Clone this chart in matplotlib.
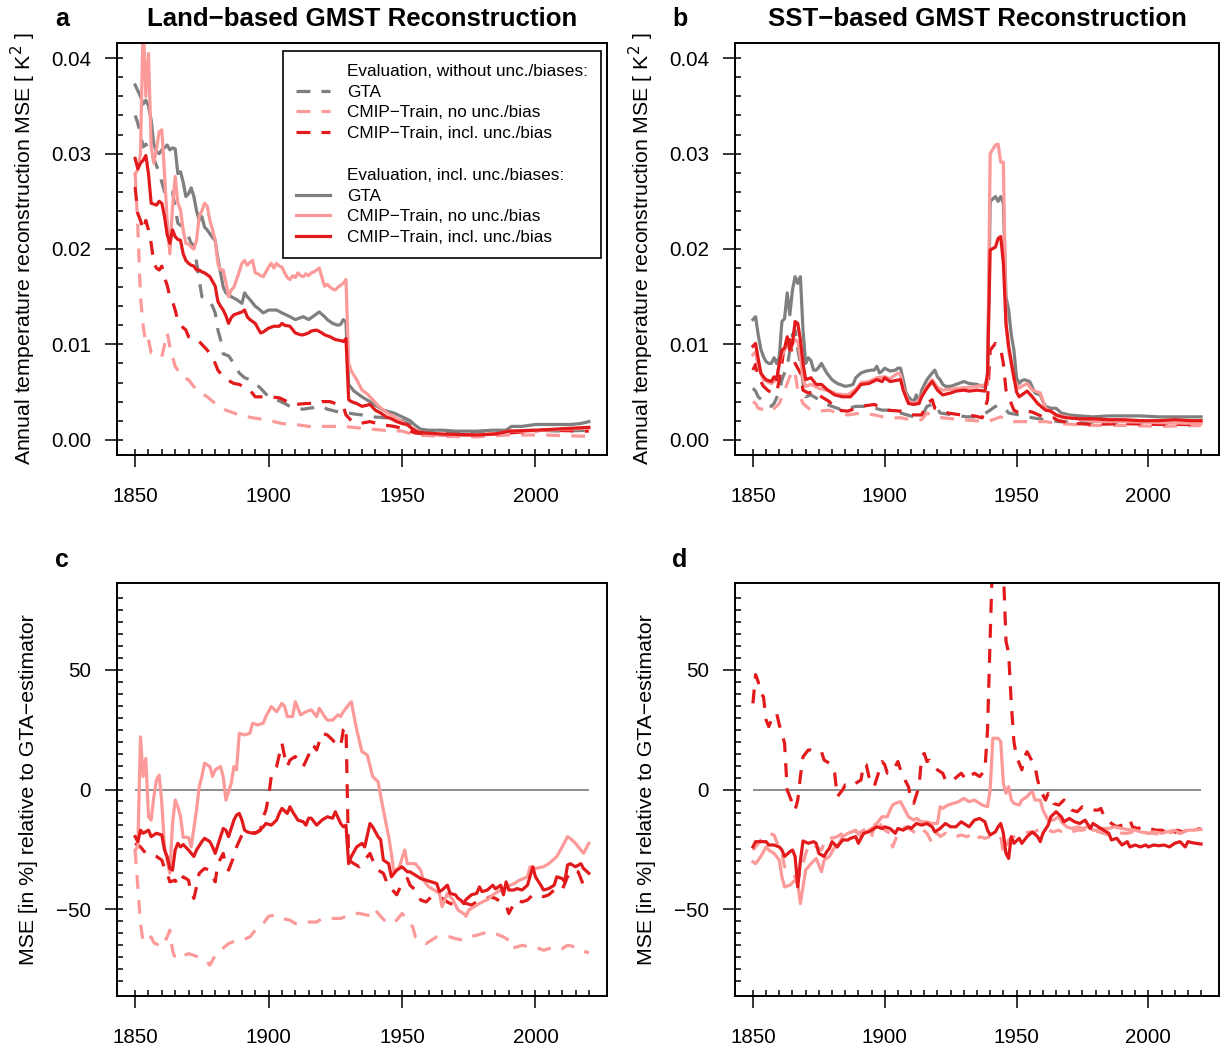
import numpy as np
import matplotlib
matplotlib.use("Agg")
import matplotlib.pyplot as plt
from matplotlib.lines import Line2D

plt.rcParams['font.family'] = ['Liberation Sans', 'DejaVu Sans']
plt.rcParams['lines.scale_dashes'] = False

GREY = '#7F7F7F'
PINK = '#FB9A99'
RED = '#E31A1C'
DASH = (0, (10, 8))

# --- panel a: land-based MSE, values in 1e-3 K^2 (year, value) ---
a_gta_noerr = [(1850, 34.0), (1851, 33.2), (1852, 32.0), (1853, 30.7), (1854, 31.0), (1855, 30.5), (1857, 29.5),
               (1859, 28.0), (1861, 26.0), (1862, 25.5), (1864, 26.0), (1866, 22.7), (1868, 22.3), (1870, 21.3),
               (1871, 20.6), (1872, 20.4), (1874, 16.8), (1875, 15.0), (1877, 14.8), (1879, 14.0), (1880, 13.3),
               (1881, 11.5), (1882, 10.5), (1883, 9.0), (1885, 8.8), (1887, 8.0), (1889, 7.0), (1891, 6.5),
               (1893, 6.3), (1895, 5.9), (1897, 5.4), (1900, 4.5), (1903, 4.2), (1906, 3.8), (1908, 3.5),
               (1910, 3.3), (1913, 3.2), (1915, 3.3), (1918, 3.4), (1920, 3.5), (1922, 3.2), (1925, 3.0),
               (1928, 2.8), (1930, 2.8), (1932, 2.7), (1935, 2.6), (1939, 2.4), (1944, 2.3), (1948, 2.1),
               (1950, 2.0), (1953, 1.6), (1955, 1.2), (1958, 0.9), (1965, 0.8), (1975, 0.7), (1985, 0.8),
               (1990, 0.9), (2000, 1.0), (2010, 0.9), (2020, 1.0)]
a_pink_noerr = [(1850, 27.9), (1851, 22.3), (1852, 15.0), (1853, 11.9), (1854, 10.1), (1855, 10.5), (1856, 9.1),
                (1858, 8.9), (1860, 8.7), (1862, 11.2), (1863, 9.8), (1865, 7.7), (1868, 6.5), (1870, 6.3),
                (1873, 5.2), (1877, 4.5), (1880, 3.8), (1884, 3.1), (1889, 2.6), (1894, 2.3), (1899, 2.1),
                (1905, 1.7), (1910, 1.6), (1915, 1.4), (1923, 1.4), (1928, 1.4), (1935, 1.2), (1943, 1.0),
                (1950, 0.9), (1955, 0.5), (1965, 0.35), (1978, 0.3), (1990, 0.5), (2003, 0.5), (2020, 0.35)]
a_red_noerr = [(1850, 26.5), (1851, 23.7), (1852, 23.0), (1853, 22.0), (1854, 23.0), (1855, 22.0), (1856, 20.6),
               (1857, 18.5), (1858, 18.0), (1859, 17.8), (1860, 18.2), (1861, 17.0), (1862, 16.2), (1863, 15.0),
               (1864, 14.5), (1865, 13.6), (1866, 12.5), (1867, 12.0), (1869, 11.5), (1870, 10.8), (1873, 10.6),
               (1875, 10.0), (1877, 9.4), (1879, 8.7), (1881, 7.3), (1883, 6.6), (1885, 6.2), (1887, 5.9),
               (1889, 5.8), (1891, 5.5), (1893, 5.2), (1895, 4.5), (1898, 4.5), (1900, 4.5), (1904, 4.4),
               (1907, 4.0), (1910, 3.7), (1914, 3.8), (1918, 3.8), (1920, 4.0), (1923, 4.0), (1926, 3.7),
               (1928, 3.5), (1929, 2.6), (1931, 2.0), (1934, 1.7), (1938, 1.9), (1942, 1.6), (1947, 1.4),
               (1950, 1.2), (1955, 0.7), (1965, 0.5), (1978, 0.5), (1990, 0.7), (2003, 1.0), (2020, 0.9)]
a_gta_incl = [(1850, 37.2), (1851, 36.6), (1852, 36.0), (1853, 35.2), (1854, 35.6), (1855, 35.0), (1856, 33.5),
              (1857, 31.0), (1858, 30.2), (1859, 30.0), (1860, 30.4), (1861, 30.6), (1862, 30.9), (1863, 30.4),
              (1864, 30.6), (1865, 30.5), (1866, 27.9), (1867, 28.1), (1868, 27.0), (1869, 25.5), (1870, 25.8),
              (1871, 26.4), (1872, 25.5), (1873, 24.0), (1874, 23.0), (1875, 23.4), (1876, 22.3), (1877, 22.0),
              (1878, 21.6), (1879, 21.2), (1880, 20.9), (1881, 19.0), (1882, 17.5), (1883, 16.0), (1884, 15.4),
              (1885, 15.2), (1886, 15.0), (1888, 14.7), (1890, 14.3), (1891, 15.4), (1892, 15.0), (1893, 14.7),
              (1895, 14.0), (1896, 13.8), (1898, 13.3), (1900, 13.6), (1903, 13.6), (1905, 13.3), (1908, 12.9),
              (1910, 12.6), (1913, 12.9), (1915, 12.6), (1917, 13.0), (1919, 13.4), (1921, 12.9), (1922, 12.6),
              (1924, 12.2), (1926, 12.0), (1927, 12.1), (1928, 12.6), (1929, 12.3), (1930, 5.8), (1932, 5.1),
              (1935, 4.5), (1939, 3.8), (1943, 3.1), (1947, 2.8), (1950, 2.4), (1953, 2.0), (1955, 1.5),
              (1957, 1.1), (1960, 1.0), (1965, 1.0), (1970, 0.9), (1978, 0.9), (1984, 1.0), (1989, 1.0),
              (1991, 1.4), (1995, 1.4), (2000, 1.6), (2005, 1.6), (2013, 1.6), (2017, 1.7), (2020, 1.9)]
a_pink_incl = [(1850, 27.9), (1851, 28.3), (1852, 30.0), (1853, 44.0), (1854, 36.0), (1855, 40.5), (1856, 30.7),
               (1857, 29.0), (1858, 30.5), (1859, 32.3), (1860, 32.5), (1861, 27.9), (1862, 23.0), (1863, 19.5),
               (1864, 24.4), (1865, 27.6), (1866, 24.8), (1867, 24.1), (1868, 22.0), (1869, 20.6), (1870, 20.5),
               (1871, 20.2), (1872, 20.0), (1873, 20.9), (1874, 23.4), (1875, 24.0), (1876, 24.8), (1877, 24.5),
               (1878, 23.0), (1879, 22.0), (1880, 20.9), (1881, 18.5), (1882, 17.8), (1883, 17.8), (1884, 16.5),
               (1885, 15.0), (1886, 15.7), (1887, 16.0), (1888, 16.8), (1889, 17.6), (1890, 18.5), (1891, 18.8),
               (1892, 18.3), (1893, 18.6), (1894, 18.8), (1895, 17.5), (1896, 17.4), (1897, 17.2), (1898, 17.1),
               (1899, 17.6), (1900, 18.1), (1901, 18.5), (1902, 18.0), (1903, 18.5), (1904, 18.2), (1905, 18.1),
               (1906, 17.5), (1907, 17.0), (1908, 16.8), (1909, 17.2), (1910, 17.0), (1911, 17.5), (1912, 17.2),
               (1913, 17.1), (1914, 17.4), (1915, 17.2), (1916, 17.5), (1917, 17.6), (1918, 17.8), (1919, 18.0),
               (1920, 17.0), (1921, 16.1), (1922, 16.3), (1923, 16.0), (1924, 15.8), (1925, 15.7), (1926, 16.0),
               (1927, 16.2), (1928, 16.4), (1929, 16.8), (1930, 8.0), (1931, 7.2), (1933, 6.3), (1935, 5.2),
               (1937, 4.8), (1939, 4.2), (1941, 3.6), (1943, 3.1), (1945, 2.7), (1947, 2.4), (1950, 1.9),
               (1952, 1.5), (1954, 1.2), (1956, 0.9), (1958, 0.7), (1965, 0.5), (1975, 0.5), (1985, 0.6),
               (1990, 0.9), (1995, 0.9), (2003, 1.0), (2010, 1.1), (2020, 1.2)]
a_red_incl = [(1850, 29.5), (1851, 28.4), (1852, 29.0), (1853, 29.3), (1854, 29.8), (1855, 27.9), (1856, 24.8),
              (1857, 24.7), (1858, 24.6), (1859, 25.0), (1860, 24.8), (1861, 23.4), (1862, 21.5), (1863, 20.6),
              (1864, 22.0), (1865, 21.3), (1866, 21.0), (1867, 20.9), (1868, 19.5), (1869, 18.8), (1870, 18.5),
              (1871, 18.3), (1872, 18.2), (1873, 17.8), (1874, 17.8), (1875, 17.6), (1876, 17.5), (1877, 17.3),
              (1878, 17.1), (1879, 16.6), (1880, 16.1), (1881, 14.5), (1882, 14.0), (1883, 13.6), (1884, 13.0),
              (1885, 12.2), (1886, 12.8), (1887, 13.1), (1888, 13.2), (1889, 13.3), (1890, 13.4), (1891, 13.6),
              (1892, 12.9), (1893, 12.6), (1894, 12.4), (1895, 12.2), (1896, 11.7), (1897, 11.2), (1898, 11.3),
              (1899, 11.5), (1900, 11.7), (1902, 11.9), (1904, 11.9), (1905, 12.2), (1906, 12.0), (1908, 11.9),
              (1910, 11.2), (1912, 11.0), (1913, 11.0), (1915, 11.2), (1916, 11.4), (1918, 11.5), (1920, 11.2),
              (1921, 11.0), (1923, 10.8), (1925, 10.5), (1927, 10.4), (1928, 10.3), (1929, 10.6), (1930, 4.2),
              (1931, 4.0), (1933, 3.8), (1935, 3.5), (1938, 3.7), (1940, 3.1), (1942, 2.8), (1944, 2.4),
              (1946, 2.2), (1948, 1.9), (1950, 1.7), (1952, 1.6), (1954, 1.1), (1956, 0.8), (1959, 0.7),
              (1965, 0.6), (1978, 0.5), (1985, 0.6), (1990, 0.9), (2000, 1.0), (2013, 1.2), (2020, 1.3)]

# --- panel b: SST-based MSE, values in 1e-3 K^2 ---
b_gta_noerr = [(1850, 5.4), (1851, 5.1), (1852, 4.5), (1854, 4.0), (1855, 3.7), (1857, 3.5), (1858, 3.8),
               (1860, 5.0), (1861, 6.3), (1863, 7.7), (1865, 11.0), (1866, 11.5), (1867, 9.5), (1868, 8.0),
               (1869, 6.0), (1870, 4.5), (1872, 4.7), (1875, 4.2), (1877, 3.8), (1880, 3.5), (1884, 3.1),
               (1889, 3.5), (1894, 3.5), (1899, 3.1), (1902, 3.1), (1906, 2.8), (1911, 2.4), (1914, 2.4),
               (1916, 3.5), (1919, 3.8), (1921, 2.8), (1926, 2.6), (1931, 2.4), (1936, 2.4), (1940, 3.1),
               (1942, 3.5), (1945, 3.5), (1947, 2.8), (1951, 2.6), (1956, 2.3), (1961, 2.1), (1966, 1.9),
               (1972, 1.8), (1979, 1.7), (1990, 1.7), (2004, 1.7), (2020, 1.7)]
b_pink_noerr = [(1850, 4.0), (1851, 3.8), (1852, 3.3), (1855, 3.1), (1857, 3.0), (1860, 3.8), (1862, 5.2),
                (1864, 6.6), (1865, 7.3), (1866, 7.0), (1867, 5.2), (1869, 3.8), (1872, 3.1), (1875, 3.0),
                (1879, 3.1), (1882, 2.8), (1886, 2.6), (1891, 2.8), (1896, 2.6), (1901, 2.3), (1906, 2.3),
                (1910, 2.1), (1914, 2.1), (1916, 2.8), (1919, 2.4), (1922, 2.3), (1929, 2.1), (1934, 2.0),
                (1939, 1.9), (1941, 2.1), (1944, 2.4), (1946, 2.1), (1949, 1.9), (1954, 1.9), (1961, 1.9),
                (1966, 1.7), (1972, 1.6), (1979, 1.5), (1991, 1.5), (2004, 1.4), (2020, 1.5)]
b_red_noerr = [(1850, 7.3), (1851, 7.9), (1852, 6.6), (1854, 5.6), (1856, 5.1), (1859, 4.9), (1860, 6.3),
               (1861, 8.0), (1862, 10.1), (1864, 10.5), (1865, 8.7), (1866, 8.0), (1868, 7.0), (1869, 5.2),
               (1871, 4.9), (1874, 5.1), (1876, 4.5), (1879, 4.0), (1882, 3.1), (1886, 3.0), (1891, 3.5),
               (1896, 3.7), (1901, 3.1), (1906, 3.0), (1911, 2.6), (1914, 2.6), (1916, 3.8), (1918, 4.2),
               (1919, 3.3), (1924, 2.8), (1929, 2.6), (1934, 2.5), (1937, 2.3), (1939, 4.2), (1940, 9.4),
               (1942, 10.1), (1944, 9.5), (1945, 8.0), (1946, 5.2), (1947, 4.5), (1949, 3.1), (1951, 2.8),
               (1954, 3.0), (1956, 2.9), (1960, 2.4), (1964, 2.3), (1966, 2.0), (1972, 1.7), (1979, 1.6),
               (1990, 1.7), (2004, 1.6), (2020, 1.6)]
b_gta_incl = [(1850, 12.6), (1851, 12.9), (1852, 11.0), (1853, 9.5), (1854, 8.7), (1855, 8.2), (1856, 8.0),
              (1857, 8.0), (1858, 8.6), (1859, 8.0), (1860, 8.7), (1861, 12.4), (1862, 12.7), (1863, 15.4),
              (1864, 13.1), (1865, 15.7), (1866, 17.1), (1867, 16.4), (1868, 17.1), (1869, 11.5), (1870, 8.0),
              (1871, 8.6), (1872, 8.3), (1873, 7.3), (1874, 7.3), (1875, 7.6), (1876, 8.0), (1877, 7.5),
              (1878, 7.0), (1880, 6.3), (1882, 5.9), (1885, 5.6), (1887, 5.7), (1888, 5.8), (1889, 6.5),
              (1891, 7.0), (1893, 7.2), (1895, 7.3), (1896, 7.3), (1897, 7.7), (1898, 7.0), (1899, 7.2),
              (1900, 7.5), (1902, 7.2), (1904, 7.3), (1905, 7.5), (1906, 7.5), (1907, 6.3), (1908, 5.0),
              (1909, 4.5), (1910, 4.2), (1911, 4.0), (1912, 4.7), (1913, 3.8), (1914, 5.2), (1916, 6.3),
              (1918, 7.0), (1919, 7.3), (1920, 6.6), (1921, 6.3), (1922, 5.8), (1923, 5.6), (1925, 5.6),
              (1927, 5.8), (1930, 6.1), (1932, 5.9), (1935, 5.8), (1937, 5.6), (1938, 5.7), (1939, 6.5),
              (1940, 25.0), (1942, 25.5), (1943, 25.0), (1944, 25.5), (1945, 24.8), (1946, 15.0), (1947, 13.6),
              (1948, 11.0), (1949, 9.4), (1950, 6.5), (1951, 5.9), (1952, 6.2), (1953, 6.3), (1955, 6.1),
              (1956, 5.5), (1957, 4.9), (1959, 4.7), (1960, 4.0), (1961, 3.5), (1963, 3.3), (1965, 3.3),
              (1967, 2.8), (1970, 2.6), (1974, 2.5), (1979, 2.4), (1985, 2.5), (1991, 2.5), (1997, 2.5),
              (2004, 2.4), (2010, 2.4), (2016, 2.4), (2020, 2.4)]
b_pink_incl = [(1850, 8.9), (1851, 9.2), (1852, 7.8), (1853, 7.0), (1854, 6.3), (1856, 6.0), (1857, 5.9),
               (1859, 6.3), (1860, 8.0), (1861, 8.9), (1862, 9.4), (1863, 10.1), (1864, 9.4), (1865, 10.0),
               (1866, 10.5), (1867, 10.3), (1868, 8.7), (1869, 6.3), (1870, 5.6), (1872, 5.8), (1875, 5.4),
               (1879, 5.1), (1882, 4.8), (1886, 4.7), (1889, 5.3), (1891, 6.0), (1894, 6.1), (1897, 6.5),
               (1900, 6.6), (1902, 6.4), (1905, 7.0), (1906, 6.8), (1907, 5.5), (1909, 4.0), (1912, 3.8),
               (1914, 4.6), (1916, 5.6), (1918, 6.3), (1920, 5.5), (1922, 5.2), (1925, 5.3), (1928, 5.4),
               (1932, 5.5), (1935, 5.6), (1939, 5.8), (1940, 30.0), (1942, 30.9), (1943, 31.0), (1944, 29.1),
               (1945, 29.1), (1946, 12.0), (1947, 9.4), (1949, 6.3), (1951, 5.4), (1952, 5.6), (1954, 5.9),
               (1956, 5.2), (1959, 4.9), (1961, 3.3), (1965, 2.6), (1971, 2.3), (1979, 1.9), (1991, 1.9),
               (2004, 1.8), (2020, 1.7)]
b_red_incl = [(1850, 9.8), (1851, 10.1), (1852, 8.5), (1853, 7.0), (1854, 6.6), (1855, 6.3), (1857, 6.1),
              (1858, 6.6), (1859, 6.3), (1860, 8.0), (1861, 9.4), (1862, 9.6), (1863, 10.8), (1864, 9.4),
              (1865, 10.1), (1866, 12.4), (1867, 12.2), (1868, 10.5), (1869, 8.0), (1870, 6.3), (1872, 6.5),
              (1874, 5.8), (1876, 5.8), (1878, 5.3), (1879, 5.1), (1881, 4.7), (1884, 4.5), (1887, 4.5),
              (1889, 5.1), (1891, 5.8), (1894, 5.9), (1897, 6.3), (1899, 6.1), (1900, 6.5), (1902, 6.1),
              (1904, 6.2), (1906, 6.3), (1907, 5.2), (1908, 4.5), (1909, 3.8), (1911, 3.7), (1913, 3.8),
              (1914, 4.5), (1916, 5.4), (1918, 6.1), (1920, 5.2), (1922, 4.7), (1925, 4.9), (1927, 5.1),
              (1930, 5.2), (1932, 5.1), (1935, 5.2), (1938, 5.1), (1939, 7.0), (1940, 19.9), (1942, 20.2),
              (1943, 21.1), (1944, 21.3), (1945, 18.5), (1946, 12.2), (1947, 9.8), (1949, 6.6), (1950, 5.0),
              (1951, 4.5), (1952, 4.7), (1954, 5.1), (1956, 4.5), (1958, 3.8), (1961, 3.1), (1963, 3.0),
              (1965, 2.6), (1967, 2.4), (1969, 2.3), (1974, 2.2), (1979, 2.2), (1985, 2.1), (1991, 2.1),
              (1997, 2.0), (2004, 2.0), (2010, 2.1), (2016, 2.0), (2020, 2.0)]

# --- panel c: land-based, MSE in % relative to GTA ---
c_pink_noerr = [(1850, -25.3), (1851, -40.7), (1852, -56.0), (1853, -63.7), (1855, -63.0), (1856, -61.6),
                (1857, -64.0), (1860, -65.8), (1862, -61.6), (1863, -58.8), (1864, -67.2), (1865, -70.6),
                (1867, -70.0), (1870, -68.6), (1872, -69.3), (1875, -70.6), (1877, -72.0), (1878, -73.4),
                (1880, -69.3), (1882, -67.2), (1885, -64.4), (1888, -63.0), (1890, -63.0), (1893, -61.6),
                (1895, -58.8), (1898, -56.0), (1900, -53.0), (1902, -52.5), (1904, -53.0), (1905, -53.9),
                (1908, -54.6), (1910, -56.0), (1912, -56.0), (1915, -55.4), (1918, -55.4), (1920, -53.9),
                (1924, -53.9), (1927, -53.9), (1929, -53.0), (1932, -51.8), (1934, -51.8), (1937, -52.5),
                (1939, -53.0), (1940, -50.4), (1942, -53.0), (1944, -55.4), (1946, -56.0), (1948, -54.6),
                (1950, -51.8), (1952, -54.6), (1954, -57.4), (1955, -61.6), (1957, -63.0), (1959, -64.4),
                (1961, -63.0), (1963, -61.6), (1965, -61.6), (1968, -61.6), (1970, -62.3), (1973, -63.0),
                (1975, -61.6), (1978, -60.9), (1980, -60.2), (1983, -59.5), (1985, -60.2), (1988, -61.6),
                (1990, -63.0), (1991, -66.5), (1993, -65.8), (1995, -65.1), (1998, -65.8), (2000, -65.8),
                (2003, -67.2), (2005, -66.5), (2007, -65.8), (2010, -66.5), (2012, -65.1), (2015, -65.8),
                (2017, -67.2), (2020, -68.3)]
c_red_noerr = [(1850, -22.5), (1852, -24.0), (1854, -26.7), (1856, -27.4), (1858, -28.0), (1860, -29.5),
               (1861, -33.0), (1862, -35.0), (1863, -38.6), (1865, -37.9), (1866, -40.0), (1868, -36.5),
               (1870, -37.9), (1871, -43.4), (1872, -45.5), (1873, -40.7), (1874, -35.0), (1876, -33.0),
               (1878, -33.7), (1880, -38.6), (1881, -31.0), (1883, -26.7), (1884, -32.3), (1885, -33.7),
               (1887, -28.0), (1888, -24.0), (1890, -19.0), (1892, -18.3), (1893, -17.7), (1895, -18.3),
               (1897, -17.0), (1898, -11.4), (1899, -8.6), (1900, -3.0), (1901, 5.4), (1902, 8.2), (1903, 9.6),
               (1905, 19.3), (1906, 13.8), (1907, 9.6), (1908, 12.3), (1910, 13.8), (1912, 11.0), (1913, 9.6),
               (1915, 14.4), (1916, 18.6), (1917, 18.0), (1918, 16.5), (1920, 23.5), (1922, 22.8), (1924, 20.7),
               (1925, 19.3), (1927, 18.0), (1928, 25.0), (1929, 26.3), (1930, -29.5), (1932, -31.0),
               (1934, -32.3), (1936, -29.5), (1938, -26.7), (1939, -29.5), (1941, -33.7), (1943, -35.0),
               (1945, -40.7), (1947, -42.7), (1948, -44.0), (1950, -39.3), (1952, -37.2), (1953, -40.0),
               (1955, -42.0), (1957, -46.2), (1959, -47.0), (1961, -44.8), (1963, -46.2), (1965, -45.5),
               (1967, -47.0), (1968, -47.6), (1970, -48.3), (1972, -47.6), (1974, -47.6), (1976, -48.3),
               (1978, -47.0), (1980, -46.2), (1982, -45.5), (1983, -44.8), (1985, -45.5), (1987, -47.0),
               (1989, -48.3), (1990, -51.8), (1992, -47.6), (1993, -46.2), (1995, -47.0), (1997, -46.2),
               (1999, -44.0), (2001, -44.0), (2003, -44.8), (2005, -44.0), (2007, -42.0), (2008, -41.4),
               (2010, -42.0), (2012, -36.5), (2014, -33.7), (2016, -34.4), (2017, -37.2), (2018, -40.0),
               (2020, -41.4)]
c_pink_incl = [(1850, -25.3), (1851, -24.0), (1852, 22.0), (1853, 5.4), (1854, 13.0), (1855, -11.4),
               (1856, -12.8), (1857, -3.0), (1858, 4.0), (1859, 6.0), (1860, -5.8), (1861, -24.0), (1862, -30.0),
               (1863, -35.0), (1864, -14.2), (1865, -4.4), (1866, -7.2), (1867, -11.4), (1868, -20.0),
               (1870, -20.0), (1871, -24.0), (1873, -8.6), (1874, 1.2), (1875, 5.4), (1876, 11.0), (1878, 9.6),
               (1879, 5.4), (1880, 8.2), (1882, 9.6), (1883, 5.4), (1884, -4.4), (1886, 2.6), (1887, 9.6),
               (1888, 8.2), (1889, 23.5), (1891, 22.8), (1893, 23.5), (1894, 27.7), (1896, 27.0), (1898, 27.7),
               (1899, 30.5), (1901, 34.7), (1903, 32.5), (1905, 36.0), (1906, 34.7), (1907, 30.5), (1909, 30.5),
               (1910, 36.7), (1912, 31.2), (1914, 32.5), (1916, 33.3), (1918, 30.5), (1919, 34.0), (1921, 30.5),
               (1922, 29.0), (1924, 29.0), (1926, 31.2), (1927, 30.5), (1928, 32.5), (1930, 35.4), (1931, 36.7),
               (1933, 25.0), (1935, 15.8), (1937, 14.4), (1939, 5.4), (1941, 3.3), (1943, -8.6), (1945, -19.7),
               (1946, -26.7), (1947, -35.0), (1949, -32.3), (1951, -25.3), (1952, -31.0), (1955, -31.0),
               (1957, -33.7), (1958, -37.9), (1960, -40.7), (1962, -42.0), (1964, -43.4), (1965, -49.0),
               (1967, -43.4), (1969, -46.0), (1971, -50.4), (1973, -51.8), (1974, -53.0), (1975, -50.4),
               (1977, -49.0), (1979, -47.6), (1982, -46.0), (1984, -44.0), (1987, -42.0), (1989, -40.7),
               (1992, -39.3), (1994, -37.9), (1997, -36.5), (1998, -32.3), (2000, -33.0), (2003, -32.3),
               (2005, -31.0), (2008, -28.0), (2010, -24.0), (2012, -19.7), (2013, -20.4), (2015, -22.5),
               (2018, -26.7), (2020, -22.5)]
c_red_incl = [(1850, -19.7), (1851, -21.8), (1852, -17.0), (1853, -18.3), (1855, -17.0), (1856, -19.7),
              (1858, -18.3), (1860, -19.0), (1861, -25.3), (1862, -28.0), (1863, -33.0), (1864, -33.7),
              (1865, -25.3), (1866, -22.5), (1867, -24.0), (1868, -23.0), (1870, -25.3), (1872, -28.0),
              (1873, -25.3), (1875, -21.8), (1876, -20.4), (1878, -21.8), (1879, -24.0), (1880, -26.7),
              (1882, -19.7), (1883, -16.3), (1884, -17.0), (1885, -19.7), (1887, -12.8), (1888, -10.7),
              (1889, -10.0), (1890, -12.8), (1891, -17.0), (1892, -17.7), (1894, -18.3), (1896, -17.7),
              (1898, -15.6), (1899, -14.2), (1901, -14.9), (1903, -12.8), (1904, -10.0), (1905, -7.9),
              (1907, -10.0), (1908, -7.2), (1909, -9.3), (1911, -12.8), (1913, -13.5), (1914, -14.9),
              (1915, -12.0), (1916, -12.0), (1918, -14.9), (1920, -12.8), (1922, -11.4), (1924, -12.0),
              (1925, -9.3), (1927, -14.2), (1928, -15.6), (1929, -14.9), (1930, -31.0), (1931, -28.0),
              (1933, -24.0), (1935, -22.5), (1936, -24.0), (1938, -14.2), (1939, -15.6), (1941, -19.7),
              (1942, -21.0), (1943, -29.5), (1945, -31.0), (1946, -36.5), (1948, -33.7), (1950, -32.3),
              (1952, -34.4), (1953, -34.4), (1955, -35.8), (1957, -37.2), (1959, -37.9), (1961, -38.6),
              (1963, -39.3), (1964, -42.7), (1965, -42.0), (1967, -40.0), (1968, -43.4), (1970, -44.0),
              (1971, -45.5), (1972, -46.2), (1973, -47.6), (1974, -46.0), (1976, -44.0), (1978, -43.4),
              (1979, -40.7), (1980, -42.7), (1982, -42.0), (1984, -40.0), (1985, -41.5), (1987, -40.0),
              (1988, -44.0), (1989, -38.6), (1990, -42.0), (1992, -42.0), (1993, -41.4), (1995, -42.0),
              (1997, -40.0), (1999, -32.3), (2000, -36.5), (2002, -40.0), (2003, -42.0), (2005, -41.4),
              (2007, -40.0), (2008, -36.5), (2010, -37.2), (2011, -38.6), (2012, -31.6), (2013, -31.0),
              (2015, -32.3), (2017, -31.0), (2018, -33.0), (2020, -35.0)]

# --- panel d: SST-based, MSE in % relative to GTA ---
d_pink_noerr = [(1850, -25.3), (1851, -24.0), (1853, -21.1), (1855, -19.0), (1856, -18.3), (1858, -19.0),
                (1859, -21.8), (1861, -26.7), (1862, -32.3), (1864, -35.0), (1865, -35.8), (1866, -36.5),
                (1867, -37.9), (1869, -31.0), (1870, -26.7), (1871, -24.0), (1873, -22.5), (1874, -24.0),
                (1876, -25.3), (1877, -22.5), (1879, -19.7), (1880, -20.4), (1882, -19.7), (1884, -18.3),
                (1886, -17.7), (1888, -17.0), (1890, -18.3), (1892, -17.0), (1893, -16.3), (1895, -19.7),
                (1896, -15.6), (1897, -12.1), (1898, -14.2), (1900, -17.0), (1902, -18.3), (1903, -24.0),
                (1905, -18.3), (1906, -17.0), (1908, -15.6), (1910, -17.0), (1912, -18.3), (1914, -16.3),
                (1916, -18.3), (1918, -22.5), (1920, -18.3), (1921, -19.7), (1923, -18.3), (1925, -19.7),
                (1927, -19.7), (1929, -19.0), (1931, -19.7), (1933, -19.0), (1935, -21.1), (1936, -19.7),
                (1938, -20.4), (1940, -19.7), (1942, -20.4), (1944, -19.7), (1945, -26.7), (1946, -24.6),
                (1947, -21.1), (1949, -19.7), (1951, -19.0), (1953, -18.3), (1955, -17.7), (1956, -18.3),
                (1958, -17.0), (1960, -16.3), (1962, -17.0), (1964, -17.7), (1966, -17.0), (1968, -18.3),
                (1970, -18.3), (1971, -17.7), (1973, -17.0), (1975, -17.0), (1977, -16.3), (1979, -17.0),
                (1981, -17.7), (1983, -18.3), (1985, -19.0), (1986, -18.3), (1988, -17.7), (1990, -18.3),
                (1992, -18.3), (1994, -17.7), (1996, -18.3), (1998, -17.7), (2000, -18.3), (2002, -18.3),
                (2005, -19.0), (2007, -18.3), (2010, -17.7), (2012, -18.3), (2015, -17.7), (2017, -17.0),
                (2020, -16.3)]
d_red_noerr = [(1850, 36.0), (1851, 48.0), (1852, 45.0), (1853, 40.0), (1854, 38.8), (1855, 29.0), (1856, 26.3),
               (1857, 29.0), (1859, 31.9), (1860, 27.0), (1861, 23.5), (1862, 19.3), (1863, -0.2), (1864, -3.0),
               (1865, -5.8), (1866, -8.6), (1867, -4.4), (1868, 5.4), (1869, 13.7), (1871, 16.5), (1872, 16.5),
               (1874, 15.8), (1876, 15.8), (1877, 12.3), (1879, 11.0), (1881, 6.8), (1882, -3.0), (1884, -0.2),
               (1885, 1.9), (1887, 1.2), (1889, 2.6), (1891, 4.0), (1892, 10.7), (1893, 10.3), (1894, 5.4),
               (1896, 1.2), (1897, 4.7), (1899, 11.7), (1900, 10.3), (1901, 6.8), (1903, 7.5), (1905, 11.7),
               (1906, 8.2), (1907, 5.4), (1909, 1.2), (1910, -4.4), (1911, -5.8), (1913, 1.2), (1914, 13.7),
               (1915, 15.1), (1916, 11.7), (1917, 12.3), (1919, 9.6), (1920, 8.2), (1922, 6.8), (1923, 4.0),
               (1924, 4.7), (1926, 4.0), (1929, 6.8), (1931, 4.0), (1932, 5.4), (1934, 6.8), (1936, 5.4),
               (1938, 8.0), (1939, 25.0), (1940, 64.0), (1941, 100.0), (1942, 110.0), (1943, 110.0),
               (1944, 105.0), (1945, 92.0), (1946, 62.0), (1947, 57.0), (1948, 36.0), (1949, 20.0), (1950, 13.7),
               (1951, 11.0), (1952, 8.2), (1953, 13.7), (1954, 15.8), (1955, 13.7), (1957, 9.6), (1958, 4.0),
               (1959, -0.2), (1961, -4.4), (1962, -1.6), (1963, -3.0), (1964, -5.8), (1966, -6.5), (1968, -4.4),
               (1969, -5.8), (1971, -8.6), (1973, -9.3), (1975, -7.2), (1977, -7.9), (1979, -8.6), (1981, -8.6),
               (1982, -7.9), (1983, -10.7), (1984, -11.4), (1986, -14.2), (1988, -15.6), (1990, -14.9),
               (1992, -14.2), (1993, -12.8), (1994, -15.6), (1996, -16.3), (1998, -15.6), (2000, -16.3),
               (2003, -17.0), (2005, -17.0), (2008, -18.3), (2009, -19.0), (2011, -17.0), (2013, -17.7),
               (2015, -17.0), (2018, -16.3), (2020, -16.7)]
d_pink_incl = [(1850, -30.2), (1851, -31.0), (1853, -28.0), (1855, -24.0), (1856, -25.3), (1858, -26.7),
               (1860, -29.5), (1861, -36.5), (1862, -40.7), (1864, -40.0), (1866, -37.9), (1867, -39.3),
               (1868, -47.7), (1869, -40.7), (1870, -33.7), (1872, -31.0), (1874, -28.8), (1876, -34.4),
               (1877, -29.5), (1879, -28.0), (1881, -24.0), (1882, -24.0), (1884, -19.7), (1886, -18.3),
               (1889, -17.0), (1891, -19.7), (1892, -18.3), (1894, -17.0), (1896, -15.6), (1898, -12.8),
               (1899, -11.4), (1901, -11.4), (1902, -8.6), (1903, -6.5), (1904, -5.8), (1906, -5.1), (1907, -7.2),
               (1909, -11.4), (1911, -12.8), (1912, -12.1), (1914, -13.5), (1916, -13.5), (1918, -14.2),
               (1920, -14.2), (1921, -7.2), (1922, -7.9), (1924, -6.5), (1926, -5.8), (1928, -5.1), (1930, -3.7),
               (1932, -5.1), (1934, -4.4), (1936, -5.8), (1937, -6.5), (1939, -7.2), (1940, -0.2), (1941, 21.4),
               (1943, 21.4), (1944, 20.0), (1945, 2.6), (1946, -1.6), (1947, 1.2), (1948, -4.4), (1949, -5.8),
               (1951, -6.5), (1952, -4.4), (1954, -3.0), (1955, -1.6), (1956, -0.9), (1957, -4.4), (1959, -4.4),
               (1960, -8.6), (1962, -12.8), (1964, -12.8), (1966, -11.4), (1967, -13.5), (1969, -15.6),
               (1971, -16.3), (1973, -15.6), (1975, -16.3), (1977, -15.6), (1979, -17.0), (1981, -17.0),
               (1982, -16.3), (1985, -16.3), (1987, -15.6), (1990, -16.3), (1992, -16.7), (1995, -17.0),
               (1997, -17.7), (2000, -18.3), (2002, -17.7), (2005, -18.3), (2007, -17.7), (2010, -17.0),
               (2012, -18.3), (2015, -17.0), (2017, -17.0), (2020, -16.7)]
d_red_incl = [(1850, -24.0), (1851, -21.8), (1853, -21.8), (1855, -21.8), (1856, -23.2), (1858, -23.2),
              (1860, -24.0), (1861, -25.3), (1862, -28.0), (1864, -26.0), (1865, -25.3), (1866, -28.0),
              (1867, -40.7), (1868, -30.0), (1869, -21.5), (1871, -22.5), (1873, -21.8), (1874, -22.5),
              (1875, -26.7), (1877, -28.0), (1878, -26.0), (1879, -24.6), (1880, -21.8), (1882, -24.0),
              (1884, -21.1), (1886, -21.1), (1887, -20.4), (1889, -19.7), (1890, -22.5), (1892, -18.3),
              (1894, -17.7), (1895, -17.0), (1896, -16.3), (1897, -15.6), (1899, -16.3), (1900, -15.6),
              (1902, -16.3), (1904, -18.3), (1905, -16.3), (1907, -17.0), (1909, -15.6), (1910, -16.3),
              (1912, -14.2), (1914, -14.9), (1916, -14.2), (1918, -15.6), (1919, -17.7), (1921, -16.3),
              (1923, -14.2), (1925, -15.6), (1927, -15.6), (1929, -13.5), (1930, -14.2), (1932, -15.6),
              (1934, -12.8), (1936, -12.1), (1938, -13.5), (1939, -17.0), (1940, -19.0), (1942, -17.7),
              (1943, -15.6), (1944, -14.2), (1945, -18.3), (1946, -26.7), (1947, -28.8), (1948, -19.7),
              (1949, -22.5), (1951, -20.4), (1952, -22.5), (1954, -19.7), (1956, -17.7), (1958, -19.7),
              (1959, -21.8), (1960, -18.3), (1962, -14.9), (1963, -11.4), (1965, -9.3), (1967, -11.4),
              (1968, -13.5), (1970, -12.1), (1972, -13.5), (1974, -14.2), (1976, -12.8), (1978, -16.3),
              (1979, -14.2), (1981, -15.6), (1983, -17.0), (1985, -18.3), (1986, -21.1), (1988, -20.4),
              (1990, -23.2), (1992, -21.8), (1993, -24.0), (1995, -23.2), (1997, -24.0), (1999, -23.2),
              (2000, -24.0), (2002, -23.2), (2004, -23.5), (2006, -23.2), (2008, -24.0), (2010, -22.5),
              (2012, -21.8), (2014, -24.0), (2015, -21.8), (2017, -22.3), (2020, -22.8)]

years_range = (1850, 2020)


def xy(pairs, scale=1.0):
    yr, v = zip(*pairs)
    return np.array(yr), np.array(v) * scale


def style_axes(ax, yticks, ylabels, yminor, ylim, ylabel, label_x):
    span = years_range[1] - years_range[0]
    ax.set_xlim(years_range[0] - 0.04 * span, years_range[1] + 0.04 * span)
    ax.set_xticks([1850, 1900, 1950, 2000])
    ax.set_xticks(np.arange(1850, 2021, 5), minor=True)
    ax.set_ylim(*ylim)
    ax.set_yticks(yticks)
    ax.set_yticklabels(ylabels)
    ax.set_yticks(yminor, minor=True)
    ax.xaxis.remove_overlapping_locs = False
    ax.yaxis.remove_overlapping_locs = False
    ax.tick_params(which='major', direction='out', length=8.6, width=1.1,
                   labelsize=14.8, color='black')
    ax.tick_params(axis='x', which='major', pad=14.5)
    ax.tick_params(axis='y', which='major', pad=10)
    ax.tick_params(which='minor', direction='in', length=4, width=1.1)
    for s in ax.spines.values():
        s.set_linewidth(1.4)
    ax.set_ylabel(ylabel, fontsize=15.3, va='center')
    ax.yaxis.set_label_coords(label_x, 0.5)


fig = plt.figure(figsize=(12.21, 10.49), dpi=100)
W, H = 1221.0, 1049.0
ax_a = fig.add_axes([117 / W, 1 - 455 / H, 490 / W, 412 / H])
ax_b = fig.add_axes([735 / W, 1 - 455 / H, 484 / W, 412 / H])
ax_c = fig.add_axes([117 / W, 1 - 996 / H, 490 / W, 413 / H])
ax_d = fig.add_axes([735 / W, 1 - 996 / H, 484 / W, 413 / H])

LW = 2.3
for ax, series in [(ax_a, (a_gta_noerr, a_pink_noerr, a_red_noerr, a_gta_incl, a_pink_incl, a_red_incl)),
                   (ax_b, (b_gta_noerr, b_pink_noerr, b_red_noerr, b_gta_incl, b_pink_incl, b_red_incl))]:
    styles = [(GREY, DASH), (PINK, DASH), (RED, DASH), (GREY, '-'), (PINK, '-'), (RED, '-')]
    for pairs, (col, ls) in zip(series, styles):
        x, y = xy(pairs, 1e-3)
        ax.plot(x, y, color=col, ls=ls, lw=LW, solid_joinstyle='round')

for ax, series in [(ax_c, (c_pink_noerr, c_red_noerr, c_pink_incl, c_red_incl)),
                   (ax_d, (d_pink_noerr, d_red_noerr, d_pink_incl, d_red_incl))]:
    ax.hlines(0, *years_range, color='#8C8C8C', lw=1.4)
    styles = [(PINK, DASH), (RED, DASH), (PINK, '-'), (RED, '-')]
    for pairs, (col, ls) in zip(series, styles):
        x, y = xy(pairs)
        ax.plot(x, y, color=col, ls=ls, lw=LW, solid_joinstyle='round')

mse_ticks = [0, 0.01, 0.02, 0.03, 0.04]
mse_labels = ['0.00', '0.01', '0.02', '0.03', '0.04']
mse_minor = np.arange(0, 0.0401, 0.002)
mse_lim = (-0.0016, 0.0416)
mse_label = 'Annual temperature reconstruction MSE [ K$^2$ ]'
rel_ticks = [-50, 0, 50]
rel_labels = ['\u221250', '0', '50']
rel_minor = np.arange(-80, 81, 5)
rel_lim = (-86.3, 86.3)
rel_label = 'MSE [in %] relative to GTA\u2212estimator'

style_axes(ax_a, mse_ticks, mse_labels, mse_minor, mse_lim, mse_label, -0.19)
style_axes(ax_b, mse_ticks, mse_labels, mse_minor, mse_lim, mse_label, -0.193)
style_axes(ax_c, rel_ticks, rel_labels, rel_minor, rel_lim, rel_label, -0.18)
style_axes(ax_d, rel_ticks, rel_labels, rel_minor, rel_lim, rel_label, -0.182)

# titles and panel letters
fig.text(362 / W, 1 - 26 / H, 'Land\u2212based GMST Reconstruction', ha='center', va='baseline',
         fontsize=18.6, fontweight='bold')
fig.text(977 / W, 1 - 26 / H, 'SST\u2212based GMST Reconstruction', ha='center', va='baseline',
         fontsize=18.6, fontweight='bold')
for lab, px, py in [('a', 62, 26), ('b', 680, 26), ('c', 62, 567), ('d', 680, 567)]:
    fig.text(px / W, 1 - py / H, lab, ha='center', va='baseline', fontsize=18, fontweight='bold')

# legend
blank = Line2D([], [], linestyle='none')
handles = [blank,
           Line2D([], [], color=GREY, ls=DASH, lw=LW),
           Line2D([], [], color=PINK, ls=DASH, lw=LW),
           Line2D([], [], color=RED, ls=DASH, lw=LW),
           blank, blank,
           Line2D([], [], color=GREY, lw=LW),
           Line2D([], [], color=PINK, lw=LW),
           Line2D([], [], color=RED, lw=LW)]
labels = ['Evaluation, without unc./biases:', 'GTA', 'CMIP\u2212Train, no unc./bias',
          'CMIP\u2212Train, incl. unc./bias', ' ', 'Evaluation, incl. unc./biases:', 'GTA',
          'CMIP\u2212Train, no unc./bias', 'CMIP\u2212Train, incl. unc./bias']
leg = ax_a.legend(handles, labels, loc='upper right', bbox_to_anchor=(601 / W, 1 - 51 / H),
                  bbox_transform=fig.transFigure, borderaxespad=0, fancybox=False, framealpha=1,
                  edgecolor='black', fontsize=12.3, handlelength=2.0, handletextpad=1.0,
                  labelspacing=0.34, borderpad=0.75)
leg.get_frame().set_linewidth(1.2)

fig.savefig('out.png', dpi=100)
